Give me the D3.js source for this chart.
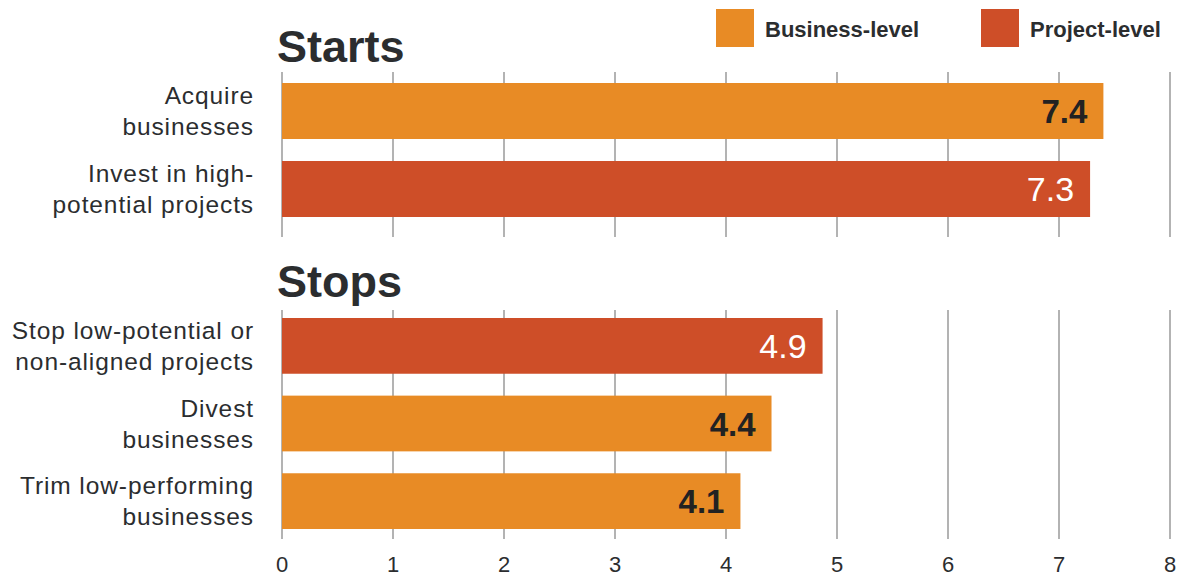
<!DOCTYPE html>
<html><head><meta charset="utf-8">
<script src="https://cdn.jsdelivr.net/npm/d3@7"></script>
<style>
body{margin:0;background:#fff;}
text{font-family:"Liberation Sans",Arial,Helvetica,sans-serif;}
</style></head>
<body><svg id="c" width="1179" height="577"></svg>
<script>
const startCategories = [["Acquire","businesses"],["Invest in high-","potential projects"]];
const startValues = [7.4, 7.28];
const startLevels = ["Business-level","Project-level"];
const stopCategories = [["Stop low-potential or","non-aligned projects"],["Divest","businesses"],["Trim low-performing","businesses"]];
const stopValues = [4.87, 4.41, 4.13];
const stopLevels = ["Project-level","Business-level","Business-level"];
const panelTitles = ["Starts","Stops"];
const legendLabels = ["Business-level","Project-level"];
const xTicks = [0,1,2,3,4,5,6,7,8];

const colors = {"Business-level":"#E88B25","Project-level":"#CE4E28"};
const labelColors = {"Business-level":"#222","Project-level":"#fff"};

const svg = d3.select("#c");
const x = d3.scaleLinear().domain([0,8]).range([282,1170]);

const panels = [
  {title:panelTitles[0], cats:startCategories, vals:startValues, lv:startLevels, range:[83,217], grid:[72,237], titleY:62},
  {title:panelTitles[1], cats:stopCategories, vals:stopValues, lv:stopLevels, range:[318,529], grid:[310,539], titleY:297}
];

panels.forEach(p=>{
  const idx = d3.range(p.vals.length);
  const y = d3.scaleBand().domain(idx).range(p.range).paddingInner(0.282).paddingOuter(0);
  svg.append("g").selectAll("line").data(xTicks).join("line")
    .attr("x1",d=>x(d)).attr("x2",d=>x(d))
    .attr("y1",p.grid[0]).attr("y2",p.grid[1])
    .attr("stroke","#9a9a9a").attr("stroke-width",1.5);
  svg.append("text").attr("x",277).attr("y",p.titleY).text(p.title)
    .attr("font-size",45).attr("font-weight",700).attr("fill","#2b2d2f");
  svg.append("g").selectAll("rect").data(idx).join("rect")
    .attr("x",x(0)).attr("y",i=>y(i)).attr("width",i=>x(p.vals[i])-x(0)).attr("height",y.bandwidth())
    .attr("fill",i=>colors[p.lv[i]]);
  svg.append("g").selectAll("text").data(idx).join("text")
    .attr("x",i=>x(p.vals[i])-16).attr("y",i=>y(i)+y.bandwidth()/2+12)
    .attr("text-anchor","end")
    .attr("font-size",i=>p.lv[i]==="Business-level"?33:34)
    .attr("font-weight",i=>p.lv[i]==="Business-level"?700:400)
    .attr("fill",i=>labelColors[p.lv[i]])
    .text(i=>p.vals[i].toFixed(1));
  const cl = svg.append("g").selectAll("text").data(idx).join("text")
    .attr("text-anchor","end").attr("font-size",24.5).attr("letter-spacing",0.9).attr("fill","#2b2d2f");
  cl.each(function(i){
    const t = d3.select(this);
    const cy = y(i)+y.bandwidth()/2;
    p.cats[i].forEach((line,k)=>{
      t.append("tspan").attr("x",254).attr("y",cy-7+k*31).text(line);
    });
  });
});

svg.append("g").selectAll("text").data(xTicks).join("text")
  .attr("x",d=>x(d)).attr("y",572).attr("text-anchor","middle")
  .attr("font-size",22).attr("fill","#2b2d2f").text(d=>d);

const legX = [716, 981];
legendLabels.forEach((l,i)=>{
  svg.append("rect").attr("x",legX[i]).attr("y",9).attr("width",38).attr("height",38).attr("fill",colors[l]);
  svg.append("text").attr("x",legX[i]+49).attr("y",37).attr("font-size",22).attr("font-weight",700)
    .attr("fill","#2b2d2f").text(l);
});
</script></body></html>
